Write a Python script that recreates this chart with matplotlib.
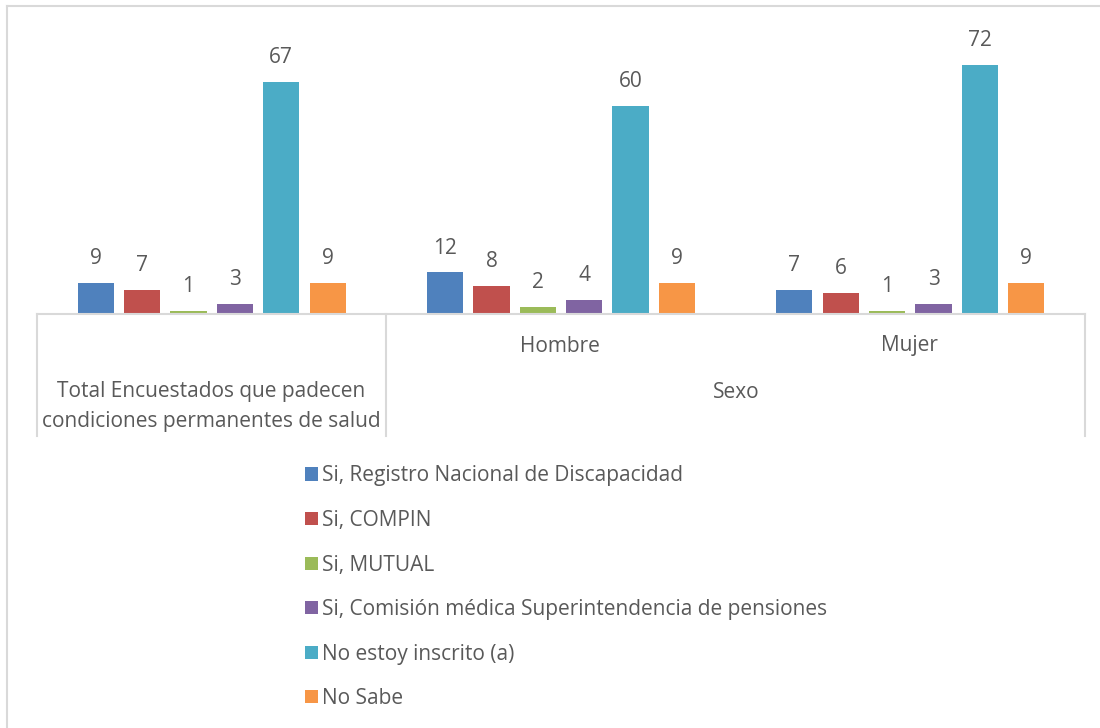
import numpy as np
import matplotlib.pyplot as plt
from matplotlib.lines import Line2D

plt.rcParams['font.family'] = ['Open Sans', 'DejaVu Sans']

series = ["Si, Registro Nacional de Discapacidad", "Si, COMPIN", "Si, MUTUAL",
          "Si, Comisión médica Superintendencia de pensiones",
          "No estoy inscrito (a)", "No Sabe"]
colors = ["#4F81BD", "#C0504D", "#9BBB59", "#8064A2", "#4BACC6", "#F79646"]
groups = ["Total", "Hombre", "Mujer"]
values = [
    [9, 12, 7],
    [7, 8, 6],
    [1, 2, 1],
    [3, 4, 3],
    [67, 60, 72],
    [9, 9, 9],
]

W, H = 1100, 728
fig = plt.figure(figsize=(W / 100, H / 100), dpi=100)

# plot area in pixels
left, right, top, base = 37, 1085, 37, 314
ax = fig.add_axes([left / W, 1 - base / H, (right - left) / W, (base - top) / H])

gray_line = "#d9d9d9"
txt = "#595959"
fs = 15

x = np.arange(len(groups))
pitch = 46.3 / 349
width = 36 / 349
for i, (name, vals, c) in enumerate(zip(series, values, colors)):
    xs = x + (i - 2.5) * pitch
    bars = ax.bar(xs, vals, width=width, color=c, label=name, zorder=2)
    for xi, v in zip(xs, vals):
        ax.annotate(str(v), (xi, v), xytext=(0, 10), textcoords="offset points",
                    ha="center", va="bottom", fontsize=fs, color=txt)

ax.set_xlim(-0.5, 2.5)
ax.set_ylim(0, 80)
ax.set_xticks([])
ax.set_yticks([])
for s in ["top", "left", "right"]:
    ax.spines[s].set_visible(False)
ax.spines["bottom"].set_color(gray_line)
ax.spines["bottom"].set_linewidth(1.5)

# category separators below the axis
below = -(436 - base) / (base - top)
tr = ax.get_xaxis_transform()
for xv in [-0.5, 0.5, 2.5]:
    ax.plot([xv, xv], [0, below], transform=tr, color=gray_line, lw=1.5, clip_on=False)

def px(xp, yp):
    return xp / W, 1 - yp / H

fig.text(*px(560, 346), "Hombre", ha="center", va="center", fontsize=fs, color=txt)
fig.text(*px(909, 346), "Mujer", ha="center", va="center", fontsize=fs, color=txt)
fig.text(*px(736, 392), "Sexo", ha="center", va="center", fontsize=fs, color=txt)
fig.text(*px(211, 392), "Total Encuestados que padecen", ha="center", va="center",
         fontsize=fs, color=txt)
fig.text(*px(211, 421), "condiciones permanentes de salud", ha="center", va="center",
         fontsize=fs, color=txt)

# chart border (left and top visible)
fig.add_artist(Line2D([7 / W, 7 / W], [0, 1 - 6 / H], color=gray_line, lw=1.5))
fig.add_artist(Line2D([7 / W, 1], [1 - 6 / H, 1 - 6 / H], color=gray_line, lw=1.5))

handles, labels = ax.get_legend_handles_labels()
leg = fig.legend(handles, labels, loc="upper left", bbox_to_anchor=(295 / W, 1 - 455 / H),
                 frameon=False, fontsize=fs, labelspacing=1.13, handlelength=0.6,
                 handleheight=0.6, handletextpad=0.2, borderpad=0)
for t in leg.get_texts():
    t.set_color(txt)

fig.savefig("out.png", dpi=100, facecolor="white")
